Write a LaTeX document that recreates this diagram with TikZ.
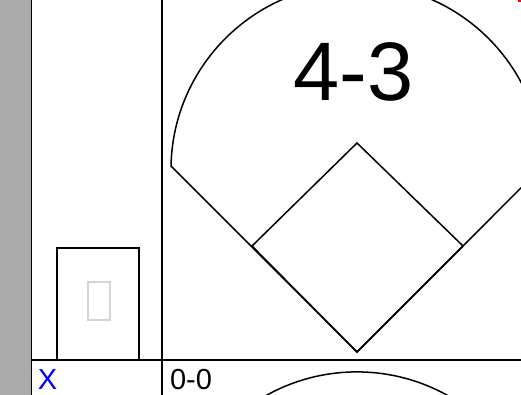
\documentclass[tikz,border=0pt]{standalone}
\usepackage{xcolor}
\usepackage{fontspec}
\setmainfont{Liberation Sans}
\usepackage{tikz}
\usetikzlibrary{positioning}
\definecolor{cbar}{HTML}{AAAAAA}
\definecolor{ctofu}{HTML}{D4D4D4}
\definecolor{cmark}{HTML}{0000FF}
\tikzset{
  gridline/.style={draw=black, line width=1.5pt},
  fieldline/.style={draw=black, line width=1.5pt, line join=miter},
  scorebig/.style={inner sep=0pt, font=\fontsize{83}{83}\selectfont},
  scoresmall/.style={inner sep=0pt, font=\fontsize{29}{29}\selectfont},
  markx/.style={inner sep=0pt, text=cmark, font=\fontsize{29}{29}\selectfont}
}
\begin{document}
\begin{tikzpicture}[x=1pt, y=-1pt]
    \useasboundingbox (0,0) rectangle (521,395);
    \clip (0,0) rectangle (521,395);
    \fill[white] (0,0) rectangle (521,395);
    \fill[cbar] (0,0) rectangle (31,395);

    % grid of the score sheet
    \draw[gridline] (31.5,0) -- (31.5,395);
    \draw[gridline] (162,0) -- (162,395);
    \draw[gridline] (31,360) -- (521,360);

    % fields
    \foreach \dy in {0,388} {
      \draw[fieldline, shift={(0,\dy)}] (357,352) -- (171,166)
        arc[start angle=181.2, end angle=358.8, radius=186] -- cycle;
    }
    \draw[fieldline] (357,143) -- (463,246) -- (357,352) -- (252,246) -- cycle;

    % pitcher box
    \draw[gridline] (57,360) -- (57,248) -- (139,248) -- (139,360);
    \draw[ctofu, line width=1.3pt] (88,282) rectangle (110,320);
    \fill[red] (518,0) rectangle (521,2);

    \node[scorebig] (runs) at (353.5,71.5) {4-3};
    \node[markx] (mark) at (47.5,380) {X};
    \node[scoresmall] (count) at (191,380) {0-0};
  \end{tikzpicture}
\end{document}
